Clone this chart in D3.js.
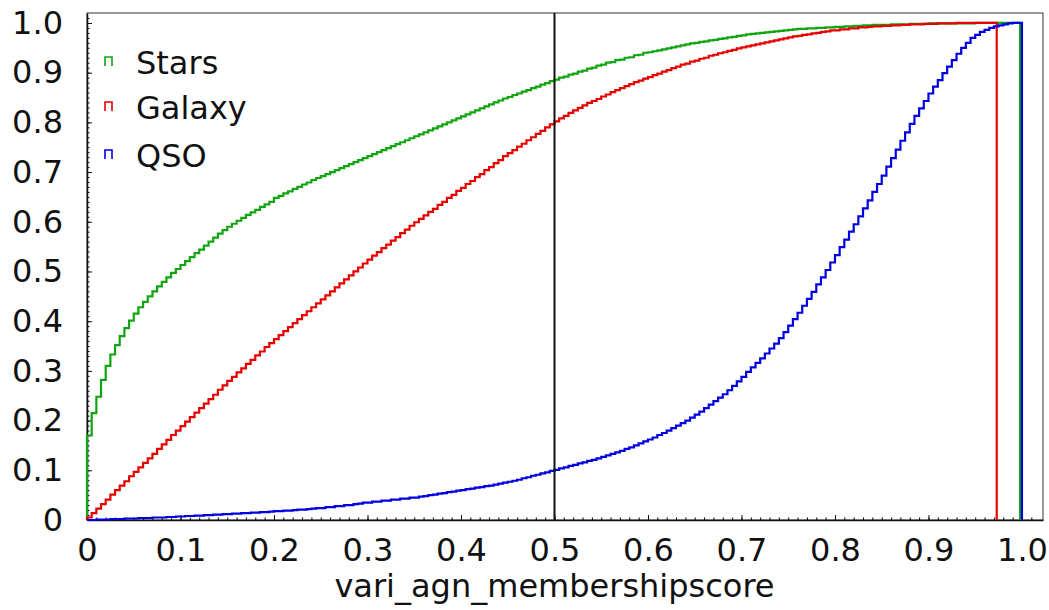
<!DOCTYPE html>
<html>
<head>
<meta charset="utf-8">
<script src="https://cdn.jsdelivr.net/npm/d3@7"></script>
<style>
  body { margin: 0; background: #fff; }
  text { font-family: "DejaVu Sans", sans-serif; fill: #111; }
</style>
</head>
<body>
<div id="chart"></div>
<script>
// cumulative fraction per bin, bins of width 0.005 starting at 0
var binWidth = 0.005;
var seriesNames = ['Stars', 'Galaxy', 'QSO'];
var seriesColors = ['#10a510', '#e80000', '#0000e0'];

var starsCum = [
  0.170, 0.215, 0.248, 0.282, 0.310, 0.333, 0.352, 0.370, 0.386, 0.401,
  0.415, 0.428, 0.439, 0.450, 0.460, 0.470, 0.479, 0.488, 0.497, 0.505,
  0.513, 0.521, 0.529, 0.537, 0.544, 0.552, 0.560, 0.568, 0.576, 0.583,
  0.590, 0.596, 0.602, 0.608, 0.614, 0.619, 0.624, 0.630, 0.635, 0.640,
  0.648, 0.652, 0.657, 0.661, 0.666, 0.670, 0.675, 0.679, 0.684, 0.688,
  0.692, 0.696, 0.700, 0.704, 0.708, 0.712, 0.716, 0.720, 0.724, 0.728,
  0.732, 0.736, 0.740, 0.744, 0.748, 0.752, 0.756, 0.760, 0.764, 0.768,
  0.772, 0.776, 0.780, 0.784, 0.788, 0.792, 0.796, 0.800, 0.804, 0.808,
  0.812, 0.816, 0.820, 0.824, 0.828, 0.832, 0.836, 0.840, 0.844, 0.848,
  0.851, 0.855, 0.858, 0.862, 0.865, 0.869, 0.872, 0.876, 0.879, 0.883,
  0.886, 0.890, 0.892, 0.896, 0.898, 0.902, 0.904, 0.908, 0.910, 0.914,
  0.916, 0.920, 0.921, 0.925, 0.926, 0.930, 0.931, 0.935, 0.936, 0.940,
  0.941, 0.943, 0.945, 0.947, 0.949, 0.951, 0.953, 0.955, 0.957, 0.959,
  0.960, 0.962, 0.963, 0.965, 0.966, 0.968, 0.969, 0.971, 0.972, 0.974,
  0.975, 0.977, 0.978, 0.979, 0.980, 0.981, 0.982, 0.983, 0.984, 0.985,
  0.986, 0.987, 0.988, 0.988, 0.989, 0.989, 0.990, 0.990, 0.991, 0.991,
  0.992, 0.992, 0.993, 0.993, 0.994, 0.994, 0.995, 0.995, 0.996, 0.996,
  0.996, 0.996, 0.997, 0.997, 0.997, 0.997, 0.998, 0.998, 0.998, 0.998,
  0.999, 0.999, 0.999, 0.999, 0.999, 0.999, 0.999, 0.999, 0.999, 0.999,
  1.0, 1.0, 1.0, 1.0, 1.0, 1.0, 1.0, 1.0, 1.0, 1.0
];

var galaxyCum = [
  0.005, 0.014, 0.023, 0.032, 0.041, 0.051, 0.060, 0.069, 0.078, 0.088,
  0.097, 0.106, 0.115, 0.124, 0.133, 0.143, 0.152, 0.161, 0.171, 0.180,
  0.189, 0.198, 0.207, 0.216, 0.225, 0.234, 0.243, 0.252, 0.262, 0.271,
  0.280, 0.288, 0.297, 0.305, 0.314, 0.322, 0.331, 0.339, 0.348, 0.356,
  0.364, 0.372, 0.380, 0.388, 0.396, 0.404, 0.412, 0.420, 0.428, 0.436,
  0.444, 0.452, 0.460, 0.468, 0.476, 0.484, 0.492, 0.500, 0.508, 0.516,
  0.524, 0.532, 0.539, 0.547, 0.554, 0.562, 0.569, 0.577, 0.584, 0.592,
  0.599, 0.606, 0.613, 0.620, 0.626, 0.634, 0.640, 0.648, 0.654, 0.662,
  0.668, 0.676, 0.682, 0.690, 0.696, 0.704, 0.710, 0.718, 0.724, 0.732,
  0.738, 0.744, 0.751, 0.757, 0.764, 0.770, 0.777, 0.783, 0.790, 0.796,
  0.802, 0.808, 0.813, 0.819, 0.824, 0.829, 0.834, 0.839, 0.843, 0.847,
  0.852, 0.856, 0.861, 0.865, 0.869, 0.873, 0.877, 0.881, 0.884, 0.888,
  0.891, 0.895, 0.898, 0.902, 0.905, 0.909, 0.912, 0.916, 0.918, 0.922,
  0.924, 0.928, 0.930, 0.934, 0.936, 0.939, 0.941, 0.944, 0.946, 0.949,
  0.951, 0.953, 0.955, 0.957, 0.959, 0.961, 0.963, 0.965, 0.967, 0.969,
  0.971, 0.973, 0.974, 0.976, 0.977, 0.979, 0.980, 0.982, 0.983, 0.985,
  0.985, 0.987, 0.987, 0.989, 0.989, 0.991, 0.991, 0.992, 0.993, 0.993,
  0.994, 0.994, 0.995, 0.995, 0.996, 0.996, 0.997, 0.997, 0.997, 0.998,
  0.998, 0.998, 0.999, 0.999, 0.999, 0.999, 1.0, 1.0, 1.0, 1.0,
  1.0, 1.0, 1.0, 1.0, 1.0
];

var qsoCum = [
  0.000, 0.000, 0.001, 0.001, 0.001, 0.002, 0.002, 0.002, 0.003, 0.003,
  0.003, 0.004, 0.004, 0.004, 0.005, 0.005, 0.005, 0.006, 0.006, 0.007,
  0.007, 0.008, 0.008, 0.009, 0.009, 0.010, 0.010, 0.011, 0.011, 0.012,
  0.012, 0.013, 0.013, 0.014, 0.014, 0.015, 0.015, 0.016, 0.016, 0.017,
  0.018, 0.018, 0.019, 0.019, 0.020, 0.021, 0.021, 0.022, 0.023, 0.024,
  0.024, 0.026, 0.026, 0.028, 0.028, 0.030, 0.030, 0.032, 0.033, 0.035,
  0.035, 0.037, 0.037, 0.039, 0.039, 0.041, 0.041, 0.043, 0.043, 0.045,
  0.045, 0.047, 0.048, 0.050, 0.051, 0.053, 0.054, 0.056, 0.057, 0.059,
  0.060, 0.062, 0.063, 0.065, 0.066, 0.068, 0.069, 0.071, 0.073, 0.075,
  0.077, 0.079, 0.081, 0.084, 0.086, 0.089, 0.091, 0.094, 0.096, 0.099,
  0.101, 0.104, 0.106, 0.109, 0.111, 0.114, 0.116, 0.119, 0.121, 0.124,
  0.127, 0.130, 0.133, 0.136, 0.139, 0.143, 0.146, 0.150, 0.154, 0.158,
  0.162, 0.166, 0.171, 0.175, 0.180, 0.185, 0.190, 0.195, 0.200, 0.206,
  0.212, 0.218, 0.225, 0.232, 0.239, 0.246, 0.253, 0.261, 0.270, 0.279,
  0.288, 0.298, 0.307, 0.316, 0.325, 0.335, 0.345, 0.355, 0.366, 0.378,
  0.391, 0.404, 0.417, 0.431, 0.445, 0.459, 0.474, 0.488, 0.503, 0.518,
  0.533, 0.549, 0.564, 0.580, 0.595, 0.611, 0.627, 0.643, 0.660, 0.676,
  0.693, 0.711, 0.728, 0.745, 0.763, 0.780, 0.797, 0.813, 0.828, 0.843,
  0.858, 0.872, 0.885, 0.899, 0.912, 0.925, 0.938, 0.950, 0.960, 0.970,
  0.976, 0.982, 0.986, 0.990, 0.993, 0.995, 0.997, 0.999, 1.0, 1.0
];

// where each histogram ends (drops back to 0)
var lastEdge = [0.998, 0.973, 1.0];

var xTicks = [0, 0.1, 0.2, 0.3, 0.4, 0.5, 0.6, 0.7, 0.8, 0.9, 1.0];
var xTickLabels = ['0', '0.1', '0.2', '0.3', '0.4', '0.5', '0.6', '0.7', '0.8', '0.9', '1.0'];
var yTicks = [0, 0.1, 0.2, 0.3, 0.4, 0.5, 0.6, 0.7, 0.8, 0.9, 1.0];
var yTickLabels = ['0', '0.1', '0.2', '0.3', '0.4', '0.5', '0.6', '0.7', '0.8', '0.9', '1.0'];
var cutValue = 0.5;
var xTitle = 'vari_agn_membershipscore';

(function(d3) {
  'use strict';

  var width = 1049;
  var height = 610;
  var margin = { top: 13, right: 6, bottom: 90, left: 87 };
  var plotW = width - margin.left - margin.right;
  var plotH = height - margin.top - margin.bottom;

  var x = d3.scaleLinear().domain([0, 1.0225]).range([0, plotW]);
  var y = d3.scaleLinear().domain([0, 1.02]).range([plotH, 0]);

  var svg = d3.select('#chart')
    .append('svg')
    .attr('width', width)
    .attr('height', height)
    .append('g')
    .attr('transform', 'translate(' + margin.left + ',' + margin.top + ')');

  // frame
  svg.append('rect')
    .attr('width', plotW)
    .attr('height', plotH)
    .attr('fill', 'none')
    .attr('stroke', '#333')
    .attr('stroke-width', 1);

  // minor ticks
  var minor = d3.range(0, 102).map(function(i) { return i / 100; });
  svg.append('g')
    .attr('transform', 'translate(0,' + plotH + ')')
    .call(d3.axisBottom(x).tickValues(minor).tickSize(-2.5).tickFormat(''))
    .call(function(g) { g.select('.domain').remove(); });
  svg.append('g')
    .call(d3.axisLeft(y).tickValues(minor).tickSize(-2.5).tickFormat(''))
    .call(function(g) { g.select('.domain').remove(); });

  // major ticks + labels
  var xAxis = svg.append('g')
    .attr('transform', 'translate(0,' + plotH + ')')
    .call(d3.axisBottom(x).tickValues(xTicks)
      .tickFormat(function(d, i) { return xTickLabels[i]; })
      .tickSize(-5).tickSizeOuter(0).tickPadding(18));
  var yAxis = svg.append('g')
    .call(d3.axisLeft(y).tickValues(yTicks)
      .tickFormat(function(d, i) { return yTickLabels[i]; })
      .tickSize(-5).tickSizeOuter(0).tickPadding(24));

  [xAxis, yAxis].forEach(function(ax) {
    ax.selectAll('text')
      .style('font-family', '"DejaVu Sans", sans-serif')
      .style('font-size', '32px')
      .attr('fill', '#111');
    ax.selectAll('line').attr('stroke', '#111');
    ax.select('.domain').attr('stroke', '#111').attr('stroke-width', 1.5);
  });

  // cumulative step lines
  var line = d3.line()
    .x(function(p) { return x(p[0]); })
    .y(function(p) { return y(p[1]); });

  function stepPoints(vals, end) {
    var pts = [[0, 0]];
    vals.forEach(function(v, i) {
      var x0 = i * binWidth;
      var x1 = Math.min((i + 1) * binWidth, end);
      if (x0 >= end) return;
      pts.push([x0, v]);
      pts.push([x1, v]);
    });
    var last = pts[pts.length - 1];
    pts.push([last[0], 0]);
    return pts;
  }

  var allSeries = [starsCum, galaxyCum, qsoCum];
  allSeries.forEach(function(vals, k) {
    svg.append('path')
      .attr('d', line(stepPoints(vals, lastEdge[k])))
      .attr('fill', 'none')
      .attr('stroke', seriesColors[k])
      .attr('stroke-width', 2.2);
  });

  // vertical cut
  svg.append('line')
    .attr('x1', x(cutValue)).attr('x2', x(cutValue))
    .attr('y1', 0).attr('y2', plotH)
    .attr('stroke', '#111')
    .attr('stroke-width', 2);

  // legend
  var legend = svg.append('g').attr('transform', 'translate(18,0)');
  var legendY = [48, 93, 141];
  seriesNames.forEach(function(name, k) {
    var ly = legendY[k];
    legend.append('path')
      .attr('d', 'M0,' + (ly + 5) + 'V' + (ly - 4) + 'H7V' + (ly + 5))
      .attr('fill', 'none')
      .attr('stroke', seriesColors[k])
      .attr('stroke-width', 1.6);
    legend.append('text')
      .attr('x', 31)
      .attr('y', ly + 13)
      .style('font-size', '32px')
      .text(name);
  });

  // axis title
  svg.append('text')
    .attr('x', x(0.5))
    .attr('y', plotH + 77)
    .attr('text-anchor', 'middle')
    .style('font-size', '32px')
    .text(xTitle);

})(window.d3);
</script>
</body>
</html>
